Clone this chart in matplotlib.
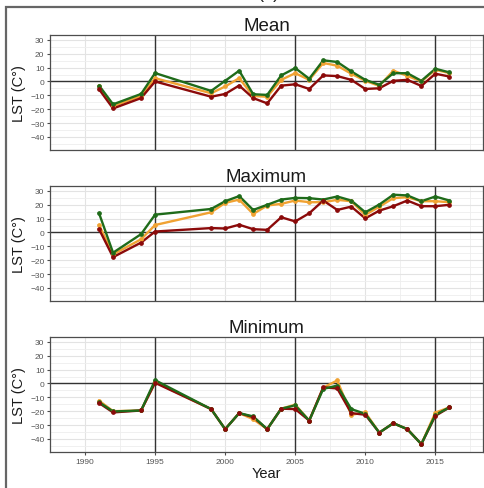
import numpy as np
import matplotlib
matplotlib.use("Agg")
import matplotlib.pyplot as plt
from matplotlib.patches import Rectangle

plt.rcParams["font.family"] = ["Liberation Sans", "DejaVu Sans"]

# Annual land surface temperature, three series per statistic
years = [1991, 1992, 1994, 1995, 1999, 2000, 2001, 2002, 2003, 2004, 2005,
         2006, 2007, 2008, 2009, 2010, 2011, 2012, 2013, 2014, 2015, 2016]

mean_green = [-2.9, -16.5, -9.0, 6.1, -6.8, 0.5, 7.8, -9.2, -9.7, 4.4, 9.7,
              2.0, 15.3, 14.1, 7.3, 1.2, -2.4, 6.0, 6.0, 0.5, 9.2, 6.6]
mean_orange = [-3.6, -17.8, -10.5, 2.4, -8.5, -3.6, 2.4, -10.5, -11.0, 1.2, 6.0,
               1.2, 13.4, 11.4, 5.6, 0.5, -3.2, 7.8, 4.1, 0.0, 8.5, 6.1]
mean_red = [-5.6, -19.5, -12.0, 0.0, -11.0, -9.0, -2.9, -12.0, -15.8, -3.0, -2.0,
            -5.4, 4.4, 3.9, 1.2, -5.4, -4.9, 0.5, 1.2, -3.2, 5.6, 3.6]

max_green = [13.9, -14.6, -1.2, 12.9, 17.0, 22.6, 26.3, 16.3, 20.0, 23.8, 25.0,
             24.8, 23.8, 26.0, 23.1, 14.6, 20.2, 27.3, 26.8, 22.6, 26.0, 23.1]
max_orange = [5.4, -15.8, -4.9, 5.4, 14.6, 21.4, 23.8, 13.4, 19.5, 20.7, 23.1,
              21.9, 21.9, 23.6, 22.6, 12.7, 18.7, 24.8, 25.5, 22.6, 22.6, 21.9]
max_red = [2.4, -17.8, -7.3, 0.7, 3.2, 2.9, 5.6, 2.4, 1.9, 11.0, 8.0,
           13.9, 23.1, 16.3, 18.7, 10.2, 15.8, 19.0, 23.1, 19.0, 19.0, 20.0]

min_green = [-13.5, -20.2, -19.5, 2.4, -18.5, -33.0, -21.4, -23.8, -33.0, -18.2, -15.8,
             -26.8, -3.9, -1.5, -18.5, -21.9, -35.5, -28.7, -33.0, -43.8, -22.6, -17.3]
min_orange = [-12.4, -20.0, -19.5, 1.0, -18.5, -33.0, -21.4, -25.8, -33.0, -18.2, -15.3,
              -26.8, -3.0, 2.2, -22.6, -20.9, -35.5, -28.7, -33.0, -43.8, -21.0, -17.3]
min_red = [-14.1, -20.9, -19.5, 0.5, -18.5, -33.0, -21.4, -24.3, -33.0, -18.2, -18.5,
           -26.8, -2.7, -3.6, -21.4, -22.6, -35.5, -28.7, -33.0, -43.8, -23.4, -17.3]

panels = [("Mean", mean_orange, mean_red, mean_green),
          ("Maximum", max_orange, max_red, max_green),
          ("Minimum", min_orange, min_red, min_green)]

c_orange = "#f0a232"
c_red = "#8b0a0a"
c_green = "#1f6b1a"

fig = plt.figure(figsize=(4.84, 4.89), dpi=100)

# outer frame and the panel letter sitting on its top edge
fig.patches.append(Rectangle((6 / 484, -0.01), 1.0, 1 - 8 / 489 + 0.01,
                             transform=fig.transFigure, fill=False,
                             edgecolor="#666666", lw=1.6, zorder=0))
fig.text(0.555, 1 + 2.5 / 489, "(a)", ha="center", va="baseline",
         fontsize=13, color="#222222")

bottoms = [1 - 151 / 489, 1 - 302 / 489, 1 - 453 / 489]
left, width, height = 50 / 484, 433 / 484, 115 / 489

for i, (title, s_or, s_red, s_gr) in enumerate(panels):
    ax = fig.add_axes([left, bottoms[i], width, height])
    ax.set_xlim(1988.65, 2018.4)
    ax.set_ylim(-49.5, 33.6)

    ax.set_yticks(np.arange(-40, 31, 10))
    ax.set_yticks(np.arange(-45, 31, 5), minor=True)
    ax.set_xticks([1990, 1995, 2000, 2005, 2010, 2015])
    ax.set_xticks(np.arange(1987.5, 2018.5, 2.5), minor=True)
    ax.grid(which="major", color="#e3e3e3", lw=0.8)
    ax.grid(which="minor", color="#eeeeee", lw=0.6)
    ax.set_axisbelow(True)

    for v in [1995, 2005, 2015]:
        ax.axvline(v, color="#333333", lw=1.0, zorder=1)
    ax.axhline(0, color="#333333", lw=1.0, zorder=1)

    ax.plot(years, s_or, color=c_orange, lw=1.7, zorder=2)
    ax.plot(years, s_red, color=c_red, lw=1.7, zorder=2)
    ax.plot(years, s_gr, color=c_green, lw=1.7, zorder=2)
    ax.plot(years, s_or, "o", color=c_orange, ms=2.4, zorder=3)
    ax.plot(years, s_gr, "o", color=c_green, ms=2.4, zorder=3)
    ax.plot(years, s_red, "o", color=c_red, ms=2.4, zorder=3)

    for sp in ax.spines.values():
        sp.set_color("#4d4d4d")
        sp.set_linewidth(0.9)
    ax.tick_params(which="both", length=0)
    ax.tick_params(which="major", length=2.5, color="#4d4d4d",
                   labelsize=6, labelcolor="#555555", pad=1.5)
    ax.set_title(title, fontsize=13.5, color="#1a1a1a", pad=3.5)
    ax.set_ylabel("LST (C°)", fontsize=10.5, color="#1a1a1a", labelpad=3)

    if i < 2:
        ax.tick_params(axis="x", labelbottom=False, length=0)
    else:
        ax.set_xlabel("Year", fontsize=10.5, color="#1a1a1a", labelpad=1)

fig.savefig("out.png", dpi=100)
